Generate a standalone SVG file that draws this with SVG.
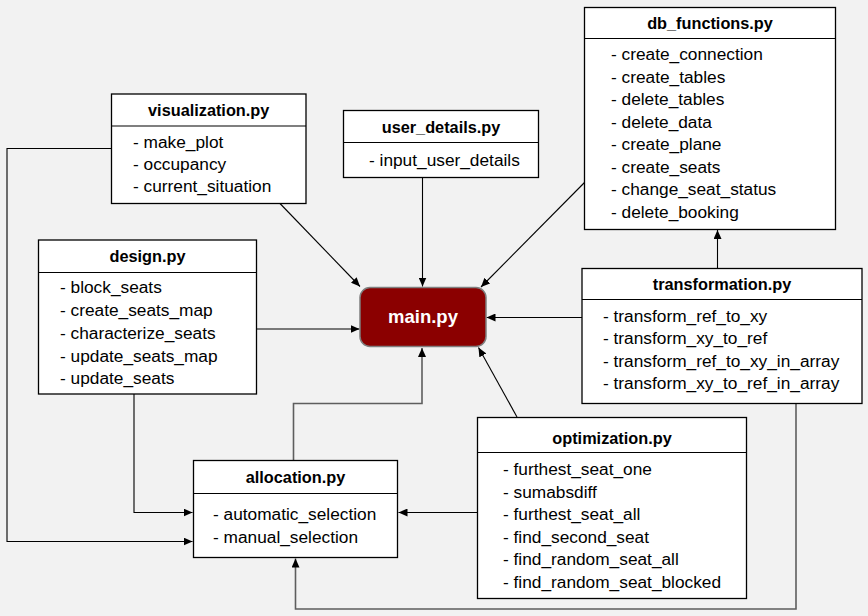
<svg xmlns="http://www.w3.org/2000/svg" width="868" height="616" viewBox="0 0 868 616">
<defs>
<style>
.box{fill:#fff;stroke:#000;stroke-width:1.3}
.sep{stroke:#000;stroke-width:1.2}
.h{font-family:"Liberation Sans",Arial,sans-serif;font-size:16.3px;font-weight:bold;fill:#000;text-anchor:middle}
.t{font-family:"Liberation Sans",Arial,sans-serif;font-size:17.3px;fill:#000}
.c{fill:none;stroke:#000;stroke-width:1.1}
.g{fill:none;stroke:#5e5e5e;stroke-width:1.6}
</style>
<marker id="a" markerUnits="userSpaceOnUse" markerWidth="10" markerHeight="8" refX="9" refY="4" orient="auto">
<path d="M0,0 L9,4 L0,8 Z" fill="#000"/>
</marker>
</defs>
<rect width="868" height="616" fill="#f2f2f2"/>
<g id="connectors">
<line class="c" x1="280" y1="203.5" x2="360" y2="286.5" marker-end="url(#a)"/>
<line class="c" x1="422.5" y1="177.5" x2="422.5" y2="286.5" marker-end="url(#a)"/>
<line class="c" x1="584.5" y1="182.5" x2="481" y2="287" marker-end="url(#a)"/>
<line class="c" x1="257" y1="329" x2="359.5" y2="329" marker-end="url(#a)"/>
<line class="c" x1="582" y1="317.5" x2="486.5" y2="317.5" marker-end="url(#a)"/>
<line class="c" x1="517" y1="417" x2="478.5" y2="347.5" marker-end="url(#a)"/>
<polyline class="g" points="293.5,460 293.5,403.5 422,403.5 422,348" marker-end="url(#a)"/>
<line class="c" x1="717.5" y1="268" x2="717.5" y2="230" marker-end="url(#a)"/>
<polyline class="c" points="111.5,148.5 7,148.5 7,541.5 192.5,541.5" marker-end="url(#a)"/>
<polyline class="c" points="134,394 134,512.5 192.5,512.5" marker-end="url(#a)"/>
<line class="c" x1="477" y1="512.5" x2="398.5" y2="512.5" marker-end="url(#a)"/>
<polyline class="g" points="796,403.5 796,609 295.5,609 295.5,558.5" marker-end="url(#a)"/>
</g>
<g id="main">
<rect x="360" y="287.5" width="126" height="59" rx="10" ry="10" fill="#8b0000" stroke="#7f7f7f" stroke-width="1.5"/>
<text x="423" y="323" font-family="Liberation Sans,Arial,sans-serif" font-size="18.5" font-weight="bold" fill="#fff" text-anchor="middle">main.py</text>
</g>
<g id="visualization">
<rect class="box" x="111.5" y="94" width="194.5" height="109.5"/>
<line class="sep" x1="111.5" y1="126" x2="306" y2="126"/>
<text class="h" x="208.7" y="116">visualization.py</text>
<text class="t" x="133" y="147.5">- make_plot</text>
<text class="t" x="133" y="169.5">- occupancy</text>
<text class="t" x="133" y="192">- current_situation</text>
</g>
<g id="user_details">
<rect class="box" x="343.5" y="110.5" width="195" height="67"/>
<line class="sep" x1="343.5" y1="142.5" x2="538.5" y2="142.5"/>
<text class="h" x="441" y="133">user_details.py</text>
<text class="t" x="369" y="165.5">- input_user_details</text>
</g>
<g id="db_functions">
<rect class="box" x="584.5" y="7.5" width="251" height="222"/>
<line class="sep" x1="584.5" y1="38.5" x2="835.5" y2="38.5"/>
<text class="h" x="710" y="29">db_functions.py</text>
<text class="t" x="611" y="60">- create_connection</text>
<text class="t" x="611" y="82.5">- create_tables</text>
<text class="t" x="611" y="105">- delete_tables</text>
<text class="t" x="611" y="127.5">- delete_data</text>
<text class="t" x="611" y="150">- create_plane</text>
<text class="t" x="611" y="172.5">- create_seats</text>
<text class="t" x="611" y="195">- change_seat_status</text>
<text class="t" x="611" y="217.5">- delete_booking</text>
</g>
<g id="design">
<rect class="box" x="38.5" y="240" width="218" height="154"/>
<line class="sep" x1="38.5" y1="272.5" x2="256.5" y2="272.5"/>
<text class="h" x="147.5" y="262">design.py</text>
<text class="t" x="60" y="293">- block_seats</text>
<text class="t" x="60" y="316">- create_seats_map</text>
<text class="t" x="60" y="339">- characterize_seats</text>
<text class="t" x="60" y="361.5">- update_seats_map</text>
<text class="t" x="60" y="384">- update_seats</text>
</g>
<g id="transformation">
<rect class="box" x="582" y="268.5" width="280" height="135"/>
<line class="sep" x1="582" y1="299.5" x2="862" y2="299.5"/>
<text class="h" x="722" y="289.5">transformation.py</text>
<text class="t" x="603" y="321.5">- transform_ref_to_xy</text>
<text class="t" x="603" y="344">- transform_xy_to_ref</text>
<text class="t" x="603" y="366.5">- transform_ref_to_xy_in_array</text>
<text class="t" x="603" y="389">- transform_xy_to_ref_in_array</text>
</g>
<g id="optimization">
<rect class="box" x="477.5" y="417.5" width="269" height="181"/>
<line class="sep" x1="477.5" y1="452.5" x2="746.5" y2="452.5"/>
<text class="h" x="612" y="443.5">optimization.py</text>
<text class="t" x="503" y="475">- furthest_seat_one</text>
<text class="t" x="503" y="497.5">- sumabsdiff</text>
<text class="t" x="503" y="520">- furthest_seat_all</text>
<text class="t" x="503" y="542.5">- find_second_seat</text>
<text class="t" x="503" y="565">- find_random_seat_all</text>
<text class="t" x="503" y="587.5">- find_random_seat_blocked</text>
</g>
<g id="allocation">
<rect class="box" x="193.5" y="460.5" width="204" height="97"/>
<line class="sep" x1="193.5" y1="493.5" x2="397.5" y2="493.5"/>
<text class="h" x="295.5" y="482.5">allocation.py</text>
<text class="t" x="213" y="520">- automatic_selection</text>
<text class="t" x="213" y="543">- manual_selection</text>
</g>
</svg>
